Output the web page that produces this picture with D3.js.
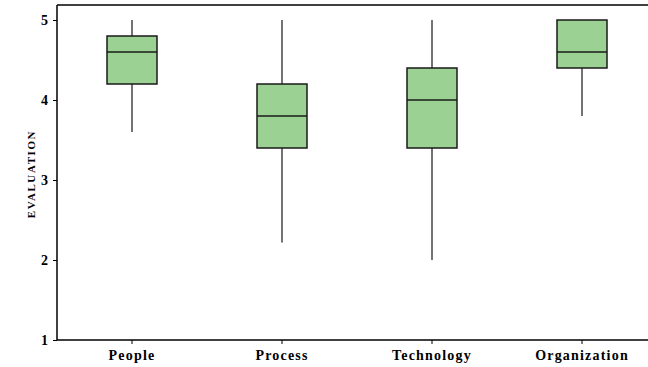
<!DOCTYPE html>
<html>
<head>
<meta charset="utf-8">
<script src="https://cdn.jsdelivr.net/npm/d3@7"></script>
<style>
body{margin:0;background:#fff;}
svg{display:block;font-family:"Liberation Serif","Times New Roman",serif;font-weight:bold;}
</style>
</head>
<body>
<svg id="c" width="648" height="367"></svg>
<script>
const categories = ["People","Process","Technology","Organization"];
const mins    = [3.6, 2.22, 2.0, 3.8];
const q1s     = [4.2, 3.4, 3.4, 4.4];
const medians = [4.6, 3.8, 4.0, 4.6];
const q3s     = [4.8, 4.2, 4.4, 5.0];
const maxs    = [5.0, 5.0, 5.0, 5.0];
const yTicks  = [1,2,3,4,5];
const yLabel  = "EVALUATION";

(function(){
const svg = d3.select("#c");
const mL = 57, mT = 5, mB = 340, mR = 657;
const x = d3.scaleBand().domain(categories).range([mL, mR]);
const y = d3.scaleLinear().domain([1,5]).range([mB, 20]);
const boxW = 50;

const data = categories.map((c,i)=>({c, min:mins[i], q1:q1s[i], med:medians[i], q3:q3s[i], max:maxs[i]}));

svg.append("line").attr("x1",mL).attr("x2",648).attr("y1",mT).attr("y2",mT).attr("stroke","#000").attr("stroke-width",1.5);

const g = svg.selectAll("g.box").data(data).enter().append("g").attr("class","box");
const cx = d => x(d.c) + x.bandwidth()/2;
g.append("line").attr("x1",cx).attr("x2",cx).attr("y1",d=>y(d.min)).attr("y2",d=>y(d.max)).attr("stroke","#444").attr("stroke-width",1.5);
g.append("rect").attr("x",d=>cx(d)-boxW/2).attr("width",boxW)
  .attr("y",d=>y(d.q3)).attr("height",d=>y(d.q1)-y(d.q3))
  .attr("fill","#9bd193").attr("stroke","#1a1a1a").attr("stroke-width",1.5);
g.append("line").attr("x1",d=>cx(d)-boxW/2).attr("x2",d=>cx(d)+boxW/2).attr("y1",d=>y(d.med)).attr("y2",d=>y(d.med)).attr("stroke","#1a1a1a").attr("stroke-width",1.5);

const yAxis = svg.append("g").attr("transform",`translate(${mL},0)`)
  .call(d3.axisLeft(y).tickValues(yTicks).tickFormat(d3.format("d")).tickSize(4).tickSizeOuter(0));
yAxis.select(".domain").attr("d",`M0,${mT}V${mB}`).attr("stroke-width",1.5);
yAxis.selectAll("text").attr("font-size",14).attr("font-family","Liberation Serif").attr("font-weight","bold").attr("fill","#000").attr("dx",-2);

const xAxis = svg.append("g").attr("transform",`translate(0,${mB})`)
  .call(d3.axisBottom(x).tickSize(4).tickSizeOuter(0));
xAxis.select(".domain").attr("d",`M${mL},0H648`).attr("stroke-width",1.5);
xAxis.selectAll("text").attr("font-size",14).attr("font-family","Liberation Serif").attr("font-weight","bold").attr("fill","#000").attr("letter-spacing","1.2px").attr("dy","0.95em");

svg.append("text").attr("transform",`translate(35,${174}) rotate(-90)`)
  .attr("text-anchor","middle").attr("font-size",11).attr("letter-spacing","1.6px").text(yLabel);
})();
</script>
</body>
</html>
